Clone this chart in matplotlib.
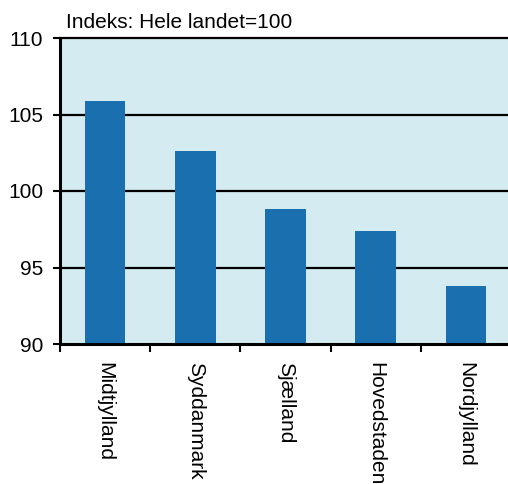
import matplotlib
matplotlib.use("Agg")
import matplotlib.pyplot as plt

regions = ["Midtjylland", "Syddanmark", "Sjælland", "Hovedstaden", "Nordjylland"]
index_values = [105.9, 102.6, 98.8, 97.4, 93.8]
y_ticks = [90, 95, 100, 105, 110]

plt.rcParams['font.family'] = ['Liberation Sans', 'DejaVu Sans']

fig = plt.figure(figsize=(5.08, 4.84), dpi=100)
ax = fig.add_axes([60 / 508, 1 - 344 / 484, 451 / 508, 306 / 484])
ax.set_facecolor('#d3ebf1')

x = list(range(len(regions)))
ax.bar(x, [v - 90 for v in index_values], bottom=90, width=0.45,
       color='#1a6faf', zorder=3)

ax.set_ylim(90, 110)
ax.set_xlim(-0.5, len(regions) - 0.5)
ax.set_yticks(y_ticks)
ax.set_yticklabels([str(t) for t in y_ticks], fontsize=15)
for t in y_ticks[1:]:
    ax.axhline(t, color='black', lw=1.6, zorder=2, clip_on=False)

# ticks between categories, labels at the centres
ax.set_xticks([i - 0.5 for i in range(len(regions) + 1)])
ax.set_xticklabels([])
ax.set_xticks(x, minor=True)
ax.set_xticklabels(regions, minor=True, rotation=270, fontsize=15,
                   ha='center', va='top')
ax.tick_params(axis='x', which='major', length=6, width=1.5, direction='out')
ax.tick_params(axis='x', which='minor', length=0, pad=13)
ax.tick_params(axis='y', length=5, width=1.5, pad=7)

for side in ['top', 'right']:
    ax.spines[side].set_visible(False)
for side in ['left', 'bottom']:
    ax.spines[side].set_linewidth(2.2)
    ax.spines[side].set_zorder(4)

fig.text(66 / 508, 1 - 28 / 484, "Indeks: Hele landet=100", fontsize=15,
         ha='left', va='baseline')

fig.savefig("out.png", dpi=100)
